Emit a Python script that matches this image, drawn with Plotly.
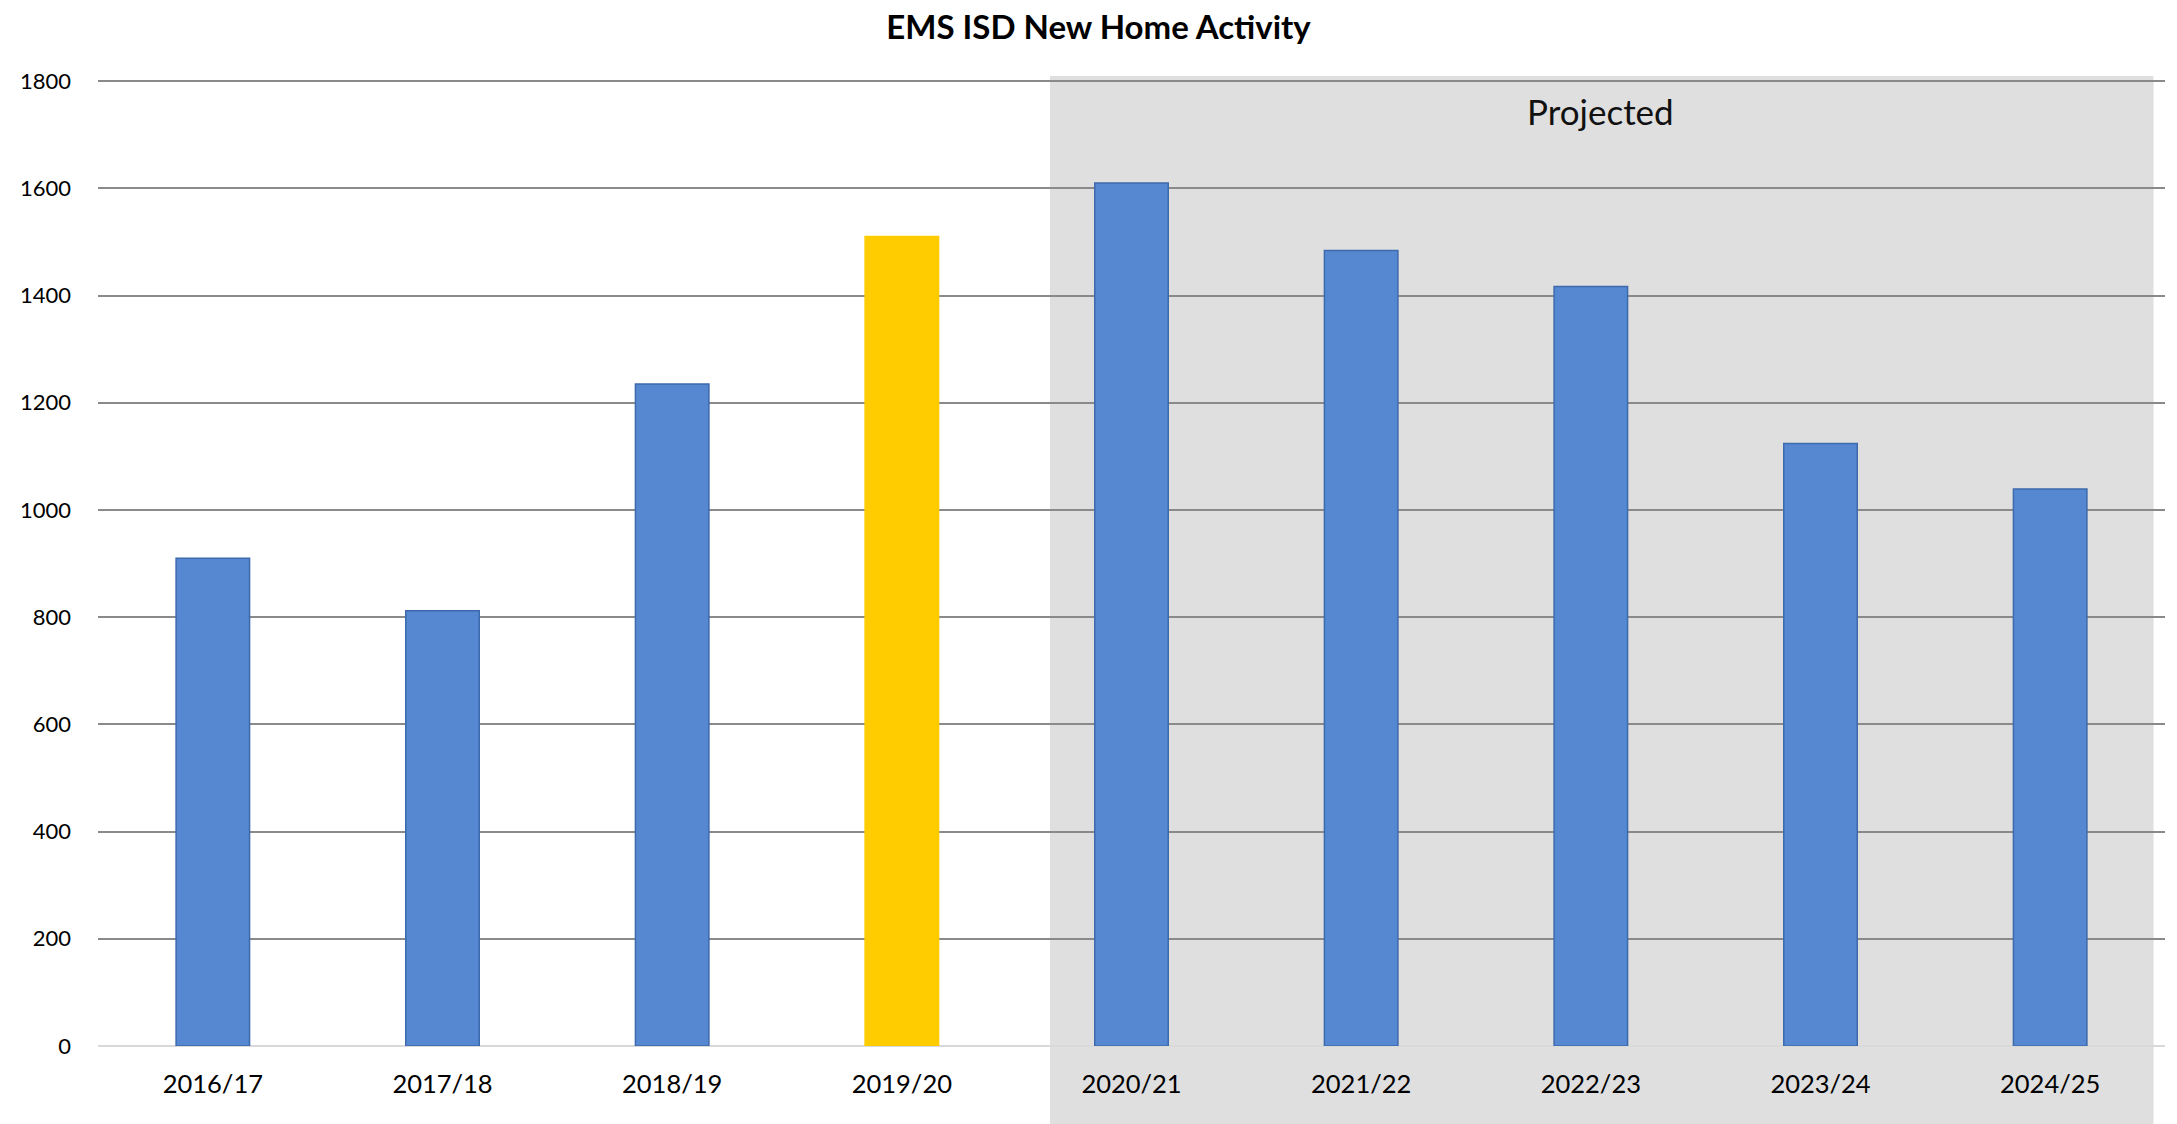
import plotly.graph_objects as go

categories = ["2016/17", "2017/18", "2018/19", "2019/20", "2020/21",
              "2021/22", "2022/23", "2023/24", "2024/25"]
homes = [910, 812, 1235, 1510, 1610, 1484, 1417, 1124, 1039]
bar_colors = ["#5588D0", "#5588D0", "#5588D0", "#FFCC00", "#5588D0",
              "#5588D0", "#5588D0", "#5588D0", "#5588D0"]
line_colors = ["#3D6AAD", "#3D6AAD", "#3D6AAD", "#FFCC00", "#3D6AAD",
               "#3D6AAD", "#3D6AAD", "#3D6AAD", "#3D6AAD"]
y_ticks = [0, 200, 400, 600, 800, 1000, 1200, 1400, 1600, 1800]

# page body has an 8px margin; figure is sized to fit the window
W, H = 2169, 1116
L, R, T, B = 90, 12, 71, 78

fig = go.Figure()
fig.add_trace(go.Bar(
    x=list(range(len(categories))), y=homes, width=0.32,
    marker=dict(color=bar_colors, line=dict(color=line_colors, width=1.5)),
    hoverinfo="x+y",
))

fig.add_shape(type="rect", xref="x", yref="paper",
              x0=3.645, x1=8.45, y0=-0.2, y1=1.003,
              fillcolor="#DFDFDF", line=dict(width=0), layer="between")

fig.add_annotation(text="Projected", xref="x", yref="paper", x=6.04, y=0.967,
                   showarrow=False, font=dict(family="Lato", size=35, color="#111111"),
                   xanchor="center", yanchor="middle")

fig.update_layout(
    width=W, height=H,
    margin=dict(l=L, r=R, t=T, b=B),
    paper_bgcolor="white", plot_bgcolor="white",
    showlegend=False,
    title=dict(text="<b>EMS ISD New Home Activity</b>", x=1090.5 / W, xanchor="center",
               y=1 - 19 / H, yanchor="middle", xref="container", yref="container",
               font=dict(family="Lato", size=33, color="black")),
    font=dict(family="Lato", color="black"),
    bargap=0.68,
)
fig.update_xaxes(
    tickmode="array", tickvals=list(range(len(categories))), ticktext=categories,
    range=[-0.5, 8.5], showgrid=False, zeroline=False, showline=False,
    ticks="", tickfont=dict(family="Lato", size=25.5, color="black"),
    ticklabelstandoff=20,
)
fig.update_yaxes(
    range=[0, 1804], tickmode="array", tickvals=y_ticks,
    showgrid=True, gridcolor="#8A8A8A", gridwidth=1.6,
    zeroline=True, zerolinecolor="#D9D9D9", zerolinewidth=1.6,
    showline=False, ticks="", tickfont=dict(family="Lato", size=22, color="black"),
    ticklabelstandoff=26,
)

fig.write_html("out.html")
